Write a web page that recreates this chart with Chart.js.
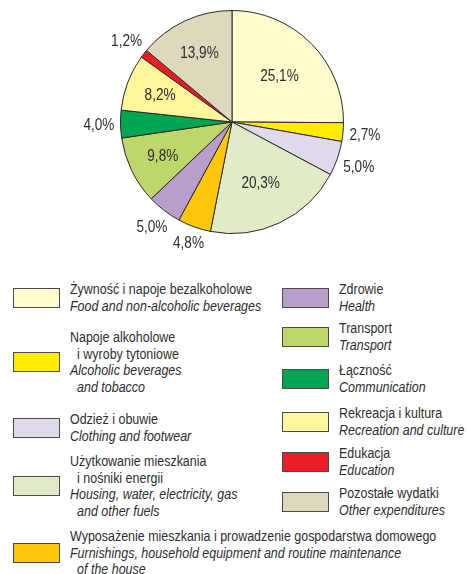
<!DOCTYPE html>
<html>
<head>
<meta charset="utf-8">
<script src="https://cdn.jsdelivr.net/npm/chart.js@4/dist/chart.umd.min.js"></script>
<style>
  html, body { margin: 0; padding: 0; background: #fff; }
  #wrap { position: relative; width: 467px; height: 574px; overflow: hidden;
          font-family: 'Liberation Sans', Arial, sans-serif; color: #2e2e2e; }
  #pie-box { position: absolute; left: 0; top: 0; width: 467px; height: 250px; }
  .leg-item { position: absolute; display: flex; align-items: center; }
  .leg-swatch { width: 45px; height: 18px; border: 1.5px solid #4a4a4a; flex: none; }
  .leg-text { font-size: 14px; line-height: 16.5px; white-space: nowrap;
              transform: scaleX(0.89); transform-origin: left center; }
  .leg-text .en { font-style: italic; }
  .leg-text .ind { padding-left: 8px; }
</style>
</head>
<body>
<div id="wrap">
  <div id="pie-box"><canvas id="pie"></canvas></div>
  <div id="legend"></div>
</div>
<script>
/* ---------- DATA ---------- */
const shares = [25.1, 2.7, 5.0, 20.3, 4.8, 5.0, 9.8, 4.0, 8.2, 1.2, 13.9];

const sliceColors = [
  '#FFFBCC', '#FFEC00', '#E0D9EC', '#E0ECC8', '#FFC70B', '#B89FCB',
  '#BED76A', '#00A651', '#FFF59B', '#ED1C24', '#DED9BD'
];

// each line is a separate entry; lines starting with '>' are indented
const namesPl = [
  ['Żywność i napoje bezalkoholowe'],
  ['Napoje alkoholowe', '>i wyroby tytoniowe'],
  ['Odzież i obuwie'],
  ['Użytkowanie mieszkania', '>i nośniki energii'],
  ['Wyposażenie mieszkania i prowadzenie gospodarstwa domowego'],
  ['Zdrowie'],
  ['Transport'],
  ['Łączność'],
  ['Rekreacja i kultura'],
  ['Edukacja'],
  ['Pozostałe wydatki']
];

const namesEn = [
  ['Food and non-alcoholic beverages'],
  ['Alcoholic beverages', '>and tobacco'],
  ['Clothing and footwear'],
  ['Housing, water, electricity, gas', '>and other fuels'],
  ['Furnishings, household equipment and routine maintenance', '>of the house'],
  ['Health'],
  ['Transport'],
  ['Communication'],
  ['Recreation and culture'],
  ['Education'],
  ['Other expenditures']
];

/* ---------- LAYOUT ---------- */
// legend columns: swatch x and top of each text block
const legendLeftCol = { swatchX: 13, rows: [281, 329, 411, 453, 528] };
const legendRightCol = { swatchX: 282, rows: [281, 320, 362, 405, 445, 485] };
const labelSquash = 0.8; // condensed look for slice labels

function fmt(v) {
  return v.toFixed(1).replace('.', ',') + '%';
}

/* ---------- LEGEND ---------- */
function lineHtml(line, cls) {
  const ind = line.charAt(0) === '>';
  const txt = ind ? line.slice(1) : line;
  return `<div class="${cls}${ind ? ' ind' : ''}">${txt}</div>`;
}

function buildLegend() {
  const host = document.getElementById('legend');
  const nLeft = legendLeftCol.rows.length;
  let html = '';
  shares.forEach((v, i) => {
    const col = i < nLeft ? legendLeftCol : legendRightCol;
    const row = i < nLeft ? i : i - nLeft;
    html += `
      <div class="leg-item" style="left:${col.swatchX}px; top:${col.rows[row]}px;">
        <div class="leg-swatch" style="background:${sliceColors[i]};"></div>
        <div class="leg-text" style="margin-left:10px;">
          ${namesPl[i].map(l => lineHtml(l, 'pl')).join('')}
          ${namesEn[i].map(l => lineHtml(l, 'en')).join('')}
        </div>
      </div>`;
  });
  host.innerHTML = html;
}

/* ---------- PIE LABELS ---------- */
const sliceLabels = {
  id: 'sliceLabels',
  afterDatasetsDraw(chart) {
    const ctx = chart.ctx;
    const meta = chart.getDatasetMeta(0);
    ctx.save();
    ctx.font = "17px 'Liberation Sans', Arial, sans-serif";
    ctx.fillStyle = '#2e2e2e';
    ctx.textAlign = 'center';
    ctx.textBaseline = 'middle';
    meta.data.forEach((arc, i) => {
      const p = arc.getProps(['x', 'y', 'startAngle', 'endAngle', 'outerRadius'], true);
      const mid = (p.startAngle + p.endAngle) / 2;
      const txt = fmt(shares[i]);
      let r;
      if (shares[i] < 7) {
        const w = ctx.measureText(txt).width * labelSquash;
        const ext = Math.abs(Math.cos(mid)) * w / 2 + Math.abs(Math.sin(mid)) * 6;
        r = p.outerRadius + 6 + ext;
      } else {
        r = p.outerRadius * (shares[i] > 15 ? 0.6 : 0.69);
      }
      ctx.save();
      ctx.translate(p.x + Math.cos(mid) * r, p.y + Math.sin(mid) * r + 1);
      ctx.scale(labelSquash, 1);
      ctx.fillText(txt, 0, 0);
      ctx.restore();
    });
    ctx.restore();
  }
};

/* ---------- CHART ---------- */
function initPie() {
  const ctx = document.getElementById('pie').getContext('2d');
  new Chart(ctx, {
    type: 'pie',
    data: {
      labels: namesEn.map(n => n.join(' ').replace(/>/g, '')),
      datasets: [{
        data: shares,
        backgroundColor: sliceColors,
        borderColor: '#2a2a2a',
        borderWidth: 1,
        hoverOffset: 0
      }]
    },
    options: {
      responsive: true,
      maintainAspectRatio: false,
      animation: false,
      layout: { padding: { top: 10, left: 120, right: 123, bottom: 16 } },
      plugins: {
        legend: { display: false },
        tooltip: { enabled: false }
      }
    },
    plugins: [sliceLabels]
  });
}

buildLegend();
initPie();
</script>
</body>
</html>
